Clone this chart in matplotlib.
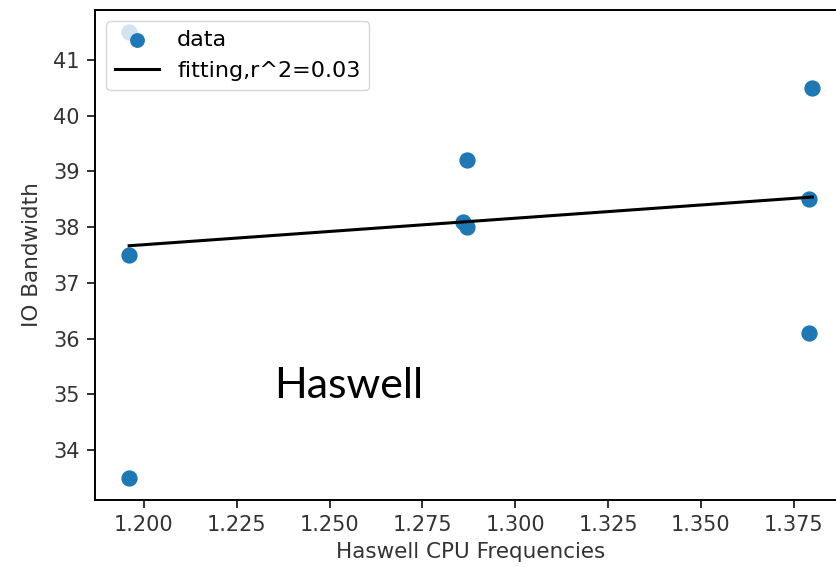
import numpy as np
import matplotlib
matplotlib.use("Agg")
import matplotlib.pyplot as plt

freq = [1.196, 1.196, 1.196, 1.287, 1.286, 1.287, 1.379, 1.380, 1.379]
bandwidth = [41.5, 37.5, 33.5, 39.2, 38.1, 38.0, 38.5, 40.5, 36.1]
xticks = [1.200, 1.225, 1.250, 1.275, 1.300, 1.325, 1.350, 1.375]
yticks = [34, 35, 36, 37, 38, 39, 40, 41]

x = np.array(freq)
y = np.array(bandwidth)
slope, intercept = np.polyfit(x, y, 1)
pred = slope * x + intercept
r2 = 1 - np.sum((y - pred) ** 2) / np.sum((y - y.mean()) ** 2)
xs = np.array([x.min(), x.max()])

fig = plt.figure(figsize=(8.36, 5.67), dpi=100)
ax = fig.add_axes([0.1136, 0.1182, 0.899, 0.8642])
ax.scatter(x, y, s=115, color="#1f77b4", label="data", zorder=2)
ax.plot(xs, slope * xs + intercept, color="black", lw=2.2,
        label="fitting,r^2=%.2f" % r2, zorder=3)
ax.set_xlim(1.1868, 1.3892)
ax.set_ylim(33.1, 41.9)
ax.set_xticks(xticks)
ax.set_xticklabels(["%.3f" % v for v in xticks])
ax.set_yticks(yticks)
ax.tick_params(labelsize=15, length=6, width=1.3, colors="#222222", pad=5)
ax.tick_params(labelcolor="#333333")
for sp in ax.spines.values():
    sp.set_linewidth(1.4)
ax.set_xlabel("Haswell CPU Frequencies", fontsize=15.5, color="#333333", labelpad=5)
ax.set_ylabel("IO Bandwidth", fontsize=15.5, color="#333333", labelpad=8)
ax.legend(loc="upper left", fontsize=16, markerscale=0.9, borderaxespad=0.5)
fig.text(0.328, 0.32, "Haswell", fontsize=31, family="Lato", ha="left", va="center")
fig.savefig("out.png", dpi=100)
